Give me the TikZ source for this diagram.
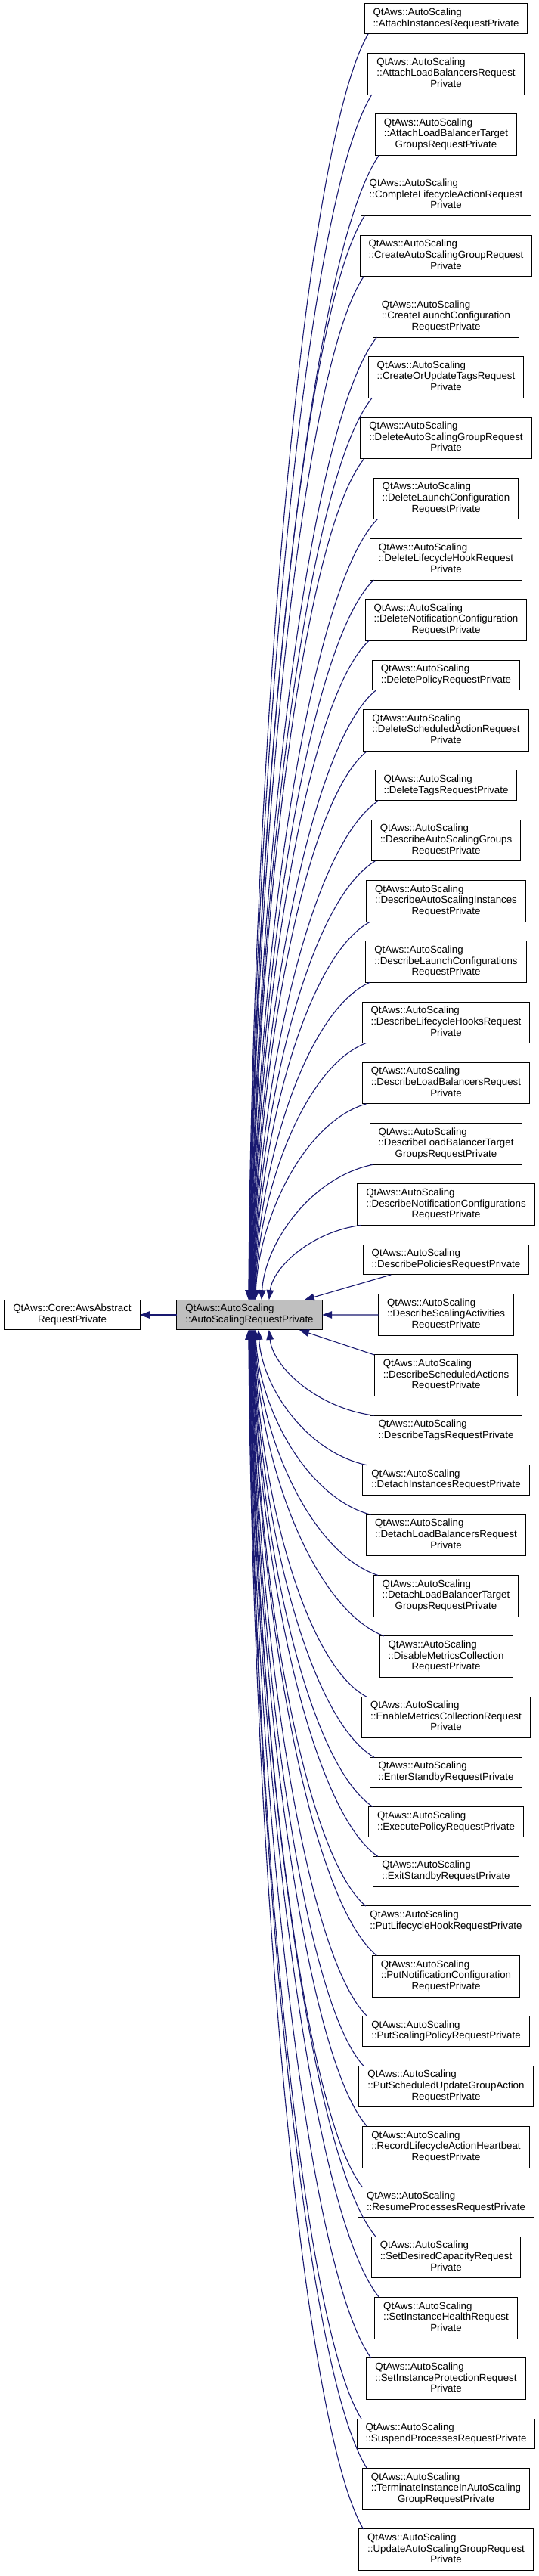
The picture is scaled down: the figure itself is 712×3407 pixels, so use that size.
\documentclass[tikz,border=0pt]{standalone}
\usepackage{fontspec}
\setmainfont{Liberation Sans}
\usetikzlibrary{arrows.meta,calc,positioning}
\definecolor{edgeblue}{HTML}{191970}
\definecolor{focusgray}{HTML}{BFBFBF}
\newcommand\cltwo[1]{\begin{tabular}{@{}l@{}}QtAws::AutoScaling\\#1\end{tabular}}
\newcommand\clthree[2]{\begin{tabular}{@{}l@{}}QtAws::AutoScaling\\#1\\\multicolumn{1}{@{}c@{}}{#2}\end{tabular}}
\newcommand\upedge[3][5]{%
  \draw[inh] let \p1=($(#2.south west)+(#1,0)$), \p2=($(c.north west)+(#3,0)$),
    \n1={\y1-\y2}, \n2={\x1-\x2} in
    (\p1) .. controls (\x1-0.55*\n2,\y1-0.09*\n1) and (\x2+5pt,\y2+0.43*\n1) .. (\p2);}
\newcommand\downedge[3][6]{%
  \draw[inh] let \p1=($(#2.north west)+(#1,0)$), \p2=($(c.south west)+(#3,0)$),
    \n1={\y2-\y1}, \n2={\x1-\x2} in
    (\p1) .. controls (\x1-0.55*\n2,\y1+0.09*\n1) and (\x2+5pt,\y2-0.43*\n1) .. (\p2);}
\begin{document}
\begin{tikzpicture}[x=1pt,y=-1pt,
  cls/.style={draw=black, line width=1pt, fill=white, inner xsep=11.5pt, inner ysep=5.2pt,
    outer sep=0pt, font=\fontsize{13.3pt}{14.7pt}\selectfont},
  sub/.style={cls, anchor=north},
  inh/.style={draw=edgeblue, line width=1.1pt, -{Triangle[length=13pt,width=9.5pt]}},
  node distance=25.75pt]
\useasboundingbox (0,0) rectangle (712,3407);
% base and focus
\node[cls] (base) at (95.5,1739) {\begin{tabular}{@{}l@{}}QtAws::Core::AwsAbstract\\\multicolumn{1}{@{}c@{}}{RequestPrivate}\end{tabular}};
\node[cls, fill=focusgray] (c) at (330,1739) {\cltwo{::AutoScalingRequestPrivate}};
% derived classes
\node[sub] (d1) at (590,5) {\cltwo{::AttachInstancesRequestPrivate}};
\node[sub, below=of d1] (d2) {\clthree{::AttachLoadBalancersRequest}{Private}};
\node[sub, below=of d2] (d3) {\clthree{::AttachLoadBalancerTarget}{GroupsRequestPrivate}};
\node[sub, below=of d3] (d4) {\clthree{::CompleteLifecycleActionRequest}{Private}};
\node[sub, below=of d4] (d5) {\clthree{::CreateAutoScalingGroupRequest}{Private}};
\node[sub, below=of d5] (d6) {\clthree{::CreateLaunchConfiguration}{RequestPrivate}};
\node[sub, below=of d6] (d7) {\clthree{::CreateOrUpdateTagsRequest}{Private}};
\node[sub, below=of d7] (d8) {\clthree{::DeleteAutoScalingGroupRequest}{Private}};
\node[sub, below=of d8] (d9) {\clthree{::DeleteLaunchConfiguration}{RequestPrivate}};
\node[sub, below=of d9] (d10) {\clthree{::DeleteLifecycleHookRequest}{Private}};
\node[sub, below=of d10] (d11) {\clthree{::DeleteNotificationConfiguration}{RequestPrivate}};
\node[sub, below=of d11] (d12) {\cltwo{::DeletePolicyRequestPrivate}};
\node[sub, below=of d12] (d13) {\clthree{::DeleteScheduledActionRequest}{Private}};
\node[sub, below=of d13] (d14) {\cltwo{::DeleteTagsRequestPrivate}};
\node[sub, below=of d14] (d15) {\clthree{::DescribeAutoScalingGroups}{RequestPrivate}};
\node[sub, below=of d15] (d16) {\clthree{::DescribeAutoScalingInstances}{RequestPrivate}};
\node[sub, below=of d16] (d17) {\clthree{::DescribeLaunchConfigurations}{RequestPrivate}};
\node[sub, below=of d17] (d18) {\clthree{::DescribeLifecycleHooksRequest}{Private}};
\node[sub, below=of d18] (d19) {\clthree{::DescribeLoadBalancersRequest}{Private}};
\node[sub, below=of d19] (d20) {\clthree{::DescribeLoadBalancerTarget}{GroupsRequestPrivate}};
\node[sub, below=of d20] (d21) {\clthree{::DescribeNotificationConfigurations}{RequestPrivate}};
\node[sub, below=of d21] (d22) {\cltwo{::DescribePoliciesRequestPrivate}};
\node[sub, below=of d22] (d23) {\clthree{::DescribeScalingActivities}{RequestPrivate}};
\node[sub, below=of d23] (d24) {\clthree{::DescribeScheduledActions}{RequestPrivate}};
\node[sub, below=of d24] (d25) {\cltwo{::DescribeTagsRequestPrivate}};
\node[sub, below=of d25] (d26) {\cltwo{::DetachInstancesRequestPrivate}};
\node[sub, below=of d26] (d27) {\clthree{::DetachLoadBalancersRequest}{Private}};
\node[sub, below=of d27] (d28) {\clthree{::DetachLoadBalancerTarget}{GroupsRequestPrivate}};
\node[sub, below=of d28] (d29) {\clthree{::DisableMetricsCollection}{RequestPrivate}};
\node[sub, below=of d29] (d30) {\clthree{::EnableMetricsCollectionRequest}{Private}};
\node[sub, below=of d30] (d31) {\cltwo{::EnterStandbyRequestPrivate}};
\node[sub, below=of d31] (d32) {\cltwo{::ExecutePolicyRequestPrivate}};
\node[sub, below=of d32] (d33) {\cltwo{::ExitStandbyRequestPrivate}};
\node[sub, below=of d33] (d34) {\cltwo{::PutLifecycleHookRequestPrivate}};
\node[sub, below=of d34] (d35) {\clthree{::PutNotificationConfiguration}{RequestPrivate}};
\node[sub, below=of d35] (d36) {\cltwo{::PutScalingPolicyRequestPrivate}};
\node[sub, below=of d36] (d37) {\clthree{::PutScheduledUpdateGroupAction}{RequestPrivate}};
\node[sub, below=of d37] (d38) {\clthree{::RecordLifecycleActionHeartbeat}{RequestPrivate}};
\node[sub, below=of d38] (d39) {\cltwo{::ResumeProcessesRequestPrivate}};
\node[sub, below=of d39] (d40) {\clthree{::SetDesiredCapacityRequest}{Private}};
\node[sub, below=of d40] (d41) {\clthree{::SetInstanceHealthRequest}{Private}};
\node[sub, below=of d41] (d42) {\clthree{::SetInstanceProtectionRequest}{Private}};
\node[sub, below=of d42] (d43) {\cltwo{::SuspendProcessesRequestPrivate}};
\node[sub, below=of d43] (d44) {\clthree{::TerminateInstanceInAutoScaling}{GroupRequestPrivate}};
\node[sub, below=of d44] (d45) {\clthree{::UpdateAutoScalingGroupRequest}{Private}};
% edges
\draw[inh] (c) -- (base);
\upedge{d1}{95}
\upedge{d2}{95.5}
\upedge{d3}{96}
\upedge{d4}{96.5}
\upedge{d5}{97}
\upedge{d6}{97.5}
\upedge{d7}{98}
\upedge{d8}{98.5}
\upedge{d9}{99}
\upedge{d10}{99.5}
\upedge{d11}{100}
\upedge{d12}{100.5}
\upedge{d13}{101}
\upedge{d14}{101.5}
\upedge{d15}{102}
\upedge{d16}{102.5}
\upedge{d17}{103}
\upedge{d18}{103.5}
\upedge{d19}{104}
\upedge{d20}{112}
\upedge{d21}{122}
\draw[inh] ($(d22.south west)+(37,0)$) -- ($(c.north west)+(169,0)$);
\draw[inh] (d23) -- (c);
\draw[inh] (d24.north west) -- ($(c.south west)+(162,0)$);
\downedge{d25}{122}
\downedge{d26}{108}
\downedge{d27}{104}
\downedge{d28}{103.5}
\downedge{d29}{103}
\downedge{d30}{102.5}
\downedge{d31}{102}
\downedge{d32}{101.5}
\downedge{d33}{101}
\downedge{d34}{100.5}
\downedge{d35}{100}
\downedge{d36}{99.5}
\downedge{d37}{99}
\downedge{d38}{98.5}
\downedge{d39}{98}
\downedge{d40}{97.5}
\downedge{d41}{97}
\downedge{d42}{96.5}
\downedge{d43}{96}
\downedge{d44}{95.5}
\downedge{d45}{95}
\end{tikzpicture}
\end{document}
